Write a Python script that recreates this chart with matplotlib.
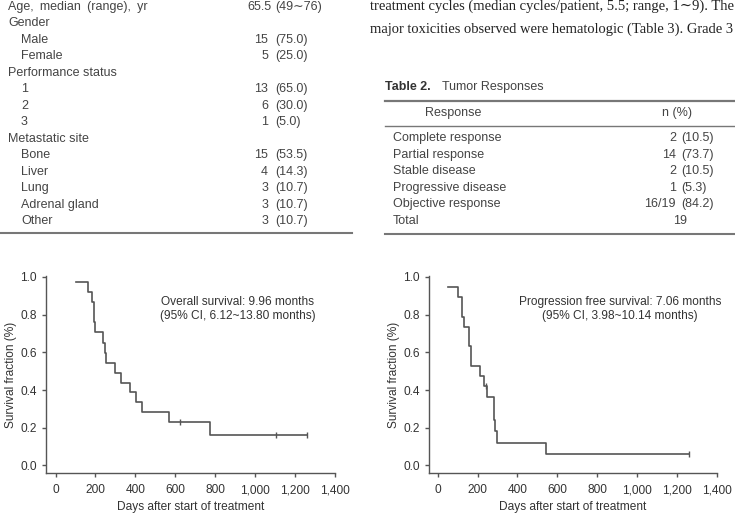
import numpy as np
import matplotlib.pyplot as plt
from matplotlib.ticker import FuncFormatter

W, H = 735, 520
GRAY = '#555555'
SANS = ['Liberation Sans', 'DejaVu Sans']
SERIF = ['Liberation Serif', 'DejaVu Serif']

# Table 1 (continued)
t1_labels = ['Age,\u2002median\u2002(range),\u2002yr', 'Gender', 'Male', 'Female', 'Performance status',
             '1', '2', '3', 'Metastatic site', 'Bone', 'Liver', 'Lung', 'Adrenal gland', 'Other']
t1_indent = [0, 0, 1, 1, 0, 1, 1, 1, 0, 1, 1, 1, 1, 1]
t1_n = ['65.5', '', '15', '5', '', '13', '6', '1', '', '15', '4', '3', '3', '3']
t1_pct = ['(49\u223c76)', '', '(75.0)', '(25.0)', '', '(65.0)', '(30.0)', '(5.0)', '',
          '(53.5)', '(14.3)', '(10.7)', '(10.7)', '(10.7)']

body_lines = ['treatment cycles (median cycles/patient, 5.5; range, 1\u223c9). The',
              'major toxicities observed were hematologic (Table 3). Grade 3']

# Table 2
t2_labels = ['Complete response', 'Partial response', 'Stable disease',
             'Progressive disease', 'Objective response', 'Total']
t2_n = ['2', '14', '2', '1', '16/19', '19']
t2_pct = ['(10.5)', '(73.7)', '(10.5)', '(5.3)', '(84.2)', '']

# Kaplan-Meier curves (days, survival fraction)
os_t = [100, 163, 183, 193, 199, 240, 247, 255, 297, 326, 372, 403, 431, 570, 773, 1262]
os_s = [0.972, 0.918, 0.865, 0.759, 0.706, 0.652, 0.599, 0.546, 0.493, 0.440,
        0.388, 0.335, 0.284, 0.230, 0.163, 0.163]
os_cens_t = [623, 1104, 1262]
os_cens_s = [0.230, 0.163, 0.163]

pfs_t = [53, 100, 120, 130, 155, 167, 211, 234, 249, 283, 287, 298, 545, 1262]
pfs_s = [0.947, 0.895, 0.789, 0.737, 0.632, 0.526, 0.474, 0.421, 0.363, 0.242,
         0.181, 0.121, 0.060, 0.060]
pfs_cens_t = [240, 1262]
pfs_cens_s = [0.421, 0.060]

fig = plt.figure(figsize=(W / 100, H / 100), dpi=100)


def P(x, y):
    return x / W, 1 - y / H


def txt(x, y, s, **kw):
    kw.setdefault('family', SANS)
    kw.setdefault('fontsize', 9)
    kw.setdefault('color', '#444444')
    kw.setdefault('va', 'center')
    return fig.text(*P(x, y), s, **kw)


def hline(x0, x1, y, lw=1.0, color='#777777'):
    fig.add_artist(plt.Line2D([x0 / W, x1 / W], [1 - y / H] * 2, lw=lw, color=color))


# --- Table 1 continuation
for i, lab in enumerate(t1_labels):
    y = 6.7 + i * 16.5
    txt(8 + 13 * t1_indent[i], y, lab)
    if t1_n[i]:
        txt(268 + (3 if i == 0 else 0), y, t1_n[i], ha='right')
        txt(275, y, t1_pct[i], ha='left')
hline(0, 352, 233.3, lw=1.5)

# --- Body text (justified to column width)
fig.canvas.draw()
r = fig.canvas.get_renderer()
for j, line in enumerate(body_lines):
    t = fig.text(*P(370, 6.7 + j * 22.6), line, family=SERIF, fontsize=10,
                 color='#222222', va='center')
    w = t.get_window_extent(renderer=r).width
    t.set_fontsize(10 * 364 / w)

# --- Table 2
txt(385, 87, 'Table 2.', fontweight='bold', color='#333333')
txt(442, 87, 'Tumor Responses', color='#444444')
hline(385, 735, 100.7, lw=1.6)
txt(453, 113, 'Response', ha='center')
txt(677, 113, 'n (%)', ha='center')
hline(385, 735, 126, lw=1.0)
for i, lab in enumerate(t2_labels):
    y = 138.3 + i * 16.55
    txt(393, y, lab)
    if t2_pct[i]:
        txt(676, y, t2_n[i], ha='right')
        txt(681, y, t2_pct[i], ha='left')
    else:
        txt(680, y, t2_n[i], ha='center')
hline(385, 735, 234.3, lw=1.5)


# --- Kaplan-Meier panels
def km_panel(left_px, right_px, xmin, t, s, ct, cs, note):
    ax = fig.add_axes([left_px / W, (H - 473) / H, (right_px - left_px) / W, (473 - 276) / H])
    ax.step(t, s, where='post', color=GRAY, lw=1.2)
    ax.plot(ct, cs, ls='none', marker='|', ms=4, mew=1.0, color=GRAY)
    ax.set_xlim(xmin, 1400)
    ax.set_ylim(-0.04, 1.005)
    ax.set_xticks(np.arange(0, 1401, 200))
    ax.set_yticks(np.arange(0, 1.01, 0.2))
    ax.xaxis.set_major_formatter(FuncFormatter(lambda v, p: f'{int(v):,}'))
    ax.yaxis.set_major_formatter(FuncFormatter(lambda v, p: f'{v:.1f}'))
    for sp in ['top', 'right']:
        ax.spines[sp].set_visible(False)
    for sp in ['left', 'bottom']:
        ax.spines[sp].set_color(GRAY)
        ax.spines[sp].set_linewidth(1.0)
    ax.tick_params(direction='out', length=3, width=1, color=GRAY, labelcolor='#333333',
                   labelsize=8.6, pad=3.5)
    ax.tick_params(axis='x', pad=5)
    for lab in ax.get_xticklabels() + ax.get_yticklabels():
        lab.set_family(SANS)
    ax.set_xlabel('Days after start of treatment', family=SANS, fontsize=8.6, color='#333333')
    ax.set_ylabel('Survival fraction (%)', family=SANS, fontsize=8.6, color='#333333')
    ax.xaxis.label.set_va('center')
    ax.yaxis.label.set_va('center')
    ax.xaxis.set_label_coords(0.5, (473 - 506.7) / 197)
    ax.yaxis.set_label_coords(-35 / (right_px - left_px), 0.5)
    ax.text(note[0], note[1], note[2], transform=ax.transAxes, ha='center', va='center',
            family=SANS, fontsize=8.6, color='#333333', linespacing=1.15)
    return ax


km_panel(46, 335, -48, os_t, os_s, os_cens_t, os_cens_s,
         ((237.5 - 46) / 289, (473 - 309) / 197,
          'Overall survival: 9.96 months\n(95% CI, 6.12~13.80 months)'))
km_panel(429, 716.7, -43.5, pfs_t, pfs_s, pfs_cens_t, pfs_cens_s,
         ((620 - 429) / 287.7, (473 - 309) / 197,
          'Progression free survival: 7.06 months\n(95% CI, 3.98~10.14 months)'))

fig.savefig('out.png', dpi=100)
